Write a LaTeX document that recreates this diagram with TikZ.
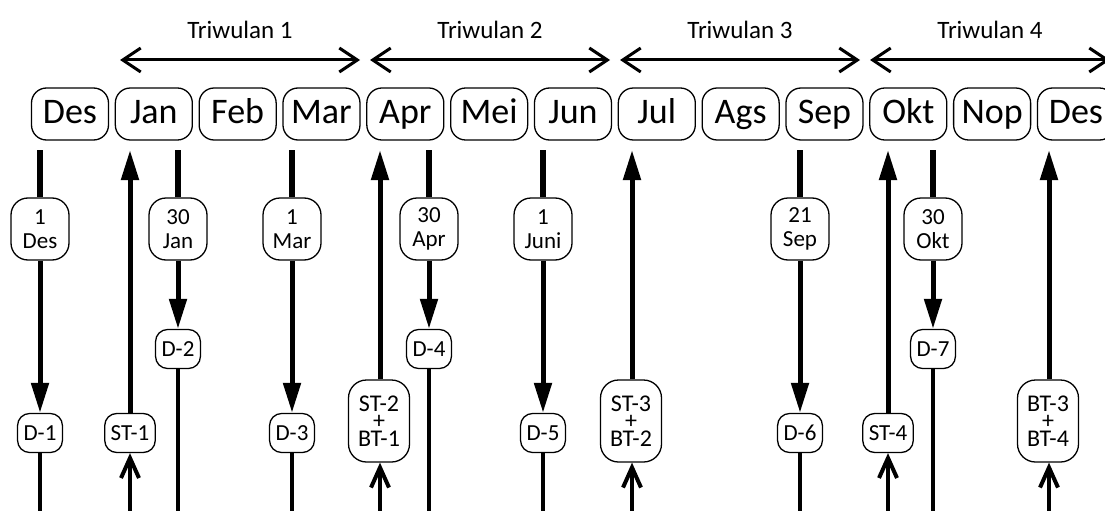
\documentclass[tikz,border=0pt]{standalone}
\usepackage{fontspec}
\setmainfont{Carlito}
\usetikzlibrary{arrows.meta}
\tikzset{
  box/.style={draw, line width=1.3pt, fill=white, align=center, inner sep=0pt},
  month/.style={box, rounded corners=15pt, minimum width=77pt, minimum height=52pt,
    text height=26pt, text depth=8pt, font=\fontsize{36}{40}\selectfont},
  datebox/.style={box, rounded corners=17pt, minimum width=58pt, minimum height=62pt,
    font=\fontsize{23}{23.5}\selectfont},
  tag/.style={box, rounded corners=12pt, minimum height=39pt, inner xsep=6pt,
    text height=15pt, text depth=0pt, font=\fontsize{23}{24}\selectfont},
  stack/.style={box, rounded corners=18pt, minimum width=61pt, minimum height=82pt,
    font=\fontsize{24}{17.5}\selectfont},
  period/.style={line width=3pt, {Straight Barb[length=18pt,width=24pt]}-{Straight Barb[length=18pt,width=24pt]}},
  periodlabel/.style={font=\fontsize{25}{28}\selectfont, anchor=base},
  stem/.style={line width=5.5pt},
  push/.style={line width=5pt, -{Triangle[length=30pt,width=17pt]}},
  tail/.style={line width=4pt},
  feed/.style={line width=4pt, -{Straight Barb[length=20pt,width=18pt]}},
}
\begin{document}
\begin{tikzpicture}[x=1pt,y=-1pt]
\useasboundingbox (0,0) rectangle (1105,511);
\fill[white] (0,0) rectangle (1105,511);

% quarters
\foreach \q in {1,2,3,4}{
  \coordinate (qa\q) at ({120+250*(\q-1)},60);
  \coordinate (qb\q) at ({360+250*(\q-1)},60);
  \draw[period] (qa\q) -- (qb\q);
  \node[periodlabel] (ql\q) at ({240+250*(\q-1)},39) {Triwulan \q};
}

% months
\foreach \m [count=\i from 0] in {Des,Jan,Feb,Mar,Apr,Mei,Jun,Jul,Ags,Sep,Okt,Nop,Des}
  \node[month] (m\i) at ({70+83.83*\i},114) {\m};

% deadline columns: date -> D-n
\foreach \x/\y/\dt/\dn/\nm in {40/433/{1\\Des}/D-1/a, 178/349/{30\\Jan}/D-2/b,
    292/433/{1\\Mar}/D-3/c, 429/349/{30\\Apr}/D-4/d, 543/433/{1\\Juni}/D-5/e,
    800/433/{21\\Sep}/D-6/f, 933/349/{30\\Okt}/D-7/g}{
  \coordinate (top\nm) at (\x,150);
  \coordinate (bot\nm) at (\x,512);
  \node[datebox] (date\nm) at (\x,229) {\dt};
  \node[tag] (dl\nm) at (\x,\y) {\dn};
  \draw[stem] (top\nm) -- (date\nm.north);
  \draw[push] (date\nm.south) -- (dl\nm.north);
  \draw[tail] (dl\nm.south) -- (bot\nm);
}

% submission columns
\node[tag] (st1) at (130,433) {ST-1};
\node[stack] (st2) at (379,421) {ST-2\\+\\BT-1};
\node[stack] (st3) at (631,421) {ST-3\\+\\BT-2};
\node[tag] (st4) at (888,433) {ST-4};
\node[stack] (st5) at (1048,421) {BT-3\\+\\BT-4};
\foreach \n/\x in {st1/130, st2/380, st3/632, st4/888, st5/1049}{
  \coordinate (up\n) at (\x,150);
  \coordinate (in\n) at (\x,512);
  \draw[push] (\n.north -| up\n) -- (up\n);
  \draw[feed] (in\n) -- (\n.south -| in\n);
}
\end{tikzpicture}
\end{document}
